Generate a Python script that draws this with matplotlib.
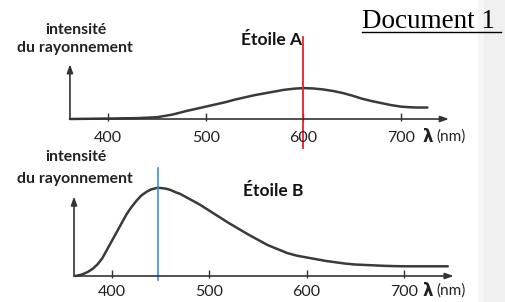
import matplotlib.pyplot as plt
from matplotlib.lines import Line2D
from matplotlib.patches import Rectangle

# ------------------------------------------------------------------
# data (intensity in arbitrary units, B peak = 100)
# ------------------------------------------------------------------
wl_a = [361, 400, 430, 450, 466, 480, 490, 500, 510, 520, 530, 540, 550, 560, 570, 580,
        590, 600, 610, 620, 630, 640, 650, 660, 670, 680, 690, 700, 708, 715, 727]
int_a = [0, 0.5, 1, 2, 5, 9, 11.5, 14, 16.5, 19, 22, 24.5, 27, 29, 31, 33,
         34.3, 35, 34.6, 33.5, 31.8, 29.5, 26.5, 23, 20.3, 18, 15.7, 14, 13.4, 13, 13]

wl_b = [362, 365, 370, 375, 380, 385, 390, 395, 400, 405, 410, 415, 420, 425, 430, 435,
        440, 447, 455, 460, 465, 470, 480, 490, 500, 510, 520, 530, 540, 550, 560, 570,
        580, 590, 600, 610, 620, 630, 640, 650, 660, 670, 680, 690, 700, 720, 745]
int_b = [0, 0.5, 2, 4.5, 8, 13, 20, 30, 40, 50, 60, 70, 78, 85, 91, 95,
         98, 100, 99, 97.5, 95, 93, 87, 81, 74, 67, 60, 53.5, 47, 41, 35, 30.5,
         26, 23, 21, 19, 17, 15.5, 14, 13, 12.5, 12, 11.5, 11.2, 11, 11, 11]

ticks = [400, 500, 600, 700]
peak_a = 600
peak_b = 447

W, H = 505, 302
FONT = "Lato"
INK = "#333333"


def fx(px):
    return px / W


def fy(py):
    return 1 - py / H


fig = plt.figure(figsize=(W / 100, H / 100), dpi=100)
fig.patch.set_facecolor("white")
fig.patches.append(Rectangle((fx(478), 0), fx(6), 1, transform=fig.transFigure,
                             color="#f6f6f6", zorder=0))
fig.patches.append(Rectangle((fx(484), 0), fx(21), 1, transform=fig.transFigure,
                             color="#f0f0f0", zorder=0))

U = 0.883  # pixels per intensity unit


def make_panel(top, bottom, base, xlim):
    ax = fig.add_axes([fx(60), fy(bottom), fx(410), (bottom - top) / H])
    ax.set_xlim(*xlim)
    ax.set_ylim(-(bottom - base) / U, (base - top) / U)
    ax.axis("off")
    return ax


ax_a = make_panel(30, 125, 119, (350.8, 770.6))
ax_b = make_panel(160, 283, 276, (346.6, 767.8))


def draw_axes(ax, x0, x1, ytop, lab_dy):
    arrow = dict(arrowstyle="-|>,head_length=0.5,head_width=0.18", color=INK, lw=1.2,
                 shrinkA=0, shrinkB=0)
    ax.annotate("", xy=(x1, 0), xytext=(x0, 0), arrowprops=arrow, annotation_clip=False)
    ax.annotate("", xy=(x0, ytop), xytext=(x0, 0), arrowprops=arrow, annotation_clip=False)
    ax.vlines(ticks, -2 / U, 6 / U, color=INK, lw=1.0)
    for t in ticks:
        ax.text(t, lab_dy, str(t), ha="center", va="center", fontsize=11.5,
                family=FONT, color="#222222", clip_on=False)


draw_axes(ax_a, 361, 749, 62, -19 / U)
draw_axes(ax_b, 361, 751, 90, -16 / U)

ax_a.plot(wl_a, int_a, color="#3a3a3a", lw=1.8, solid_capstyle="round")
ax_b.plot(wl_b, int_b, color="#3a3a3a", lw=1.8, solid_capstyle="round")

# marker lines at the peaks
ax_a.plot([peak_a, peak_a], [(119 - 37) / U, (119 - 148) / U], color="#e8202a",
          lw=1.3, clip_on=False)
ax_b.plot([peak_b, peak_b], [(276 - 168) / U, (276 - 280) / U], color="#3b8fe0",
          lw=1.2, clip_on=False)

# texts
for y1, y2 in [(30, 48), (157, 179)]:
    fig.text(fx(76), fy(y1), "intensité", ha="center", va="center", fontsize=11.3,
             fontweight="bold", family=FONT, color="#222222")
    fig.text(fx(75), fy(y2), "du rayonnement", ha="center", va="center", fontsize=11.3,
             fontweight="bold", family=FONT, color="#222222")

fig.text(fx(272), fy(40), "Étoile A", ha="center", va="center", fontsize=12.5,
         fontweight="bold", family=FONT, color="#111111")
fig.text(fx(273), fy(191), "Étoile B", ha="center", va="center", fontsize=12.5,
         fontweight="bold", family=FONT, color="#111111")

for y in [137, 291]:
    fig.text(fx(428), fy(y), "λ", ha="center", va="center", fontsize=12,
             fontweight="bold", family="DejaVu Sans", color="#222222")
    fig.text(fx(436), fy(y), "(nm)", ha="left", va="center", fontsize=11,
             family=FONT, color="#222222")

fig.text(fx(362), fy(28), "Document 1", ha="left", va="baseline", fontsize=19.5,
         family="Liberation Serif", color="black")
fig.add_artist(Line2D([fx(362), fx(501)], [fy(32), fy(32)], transform=fig.transFigure,
                      color="black", lw=1.0))

fig.savefig("out.png", dpi=100)
